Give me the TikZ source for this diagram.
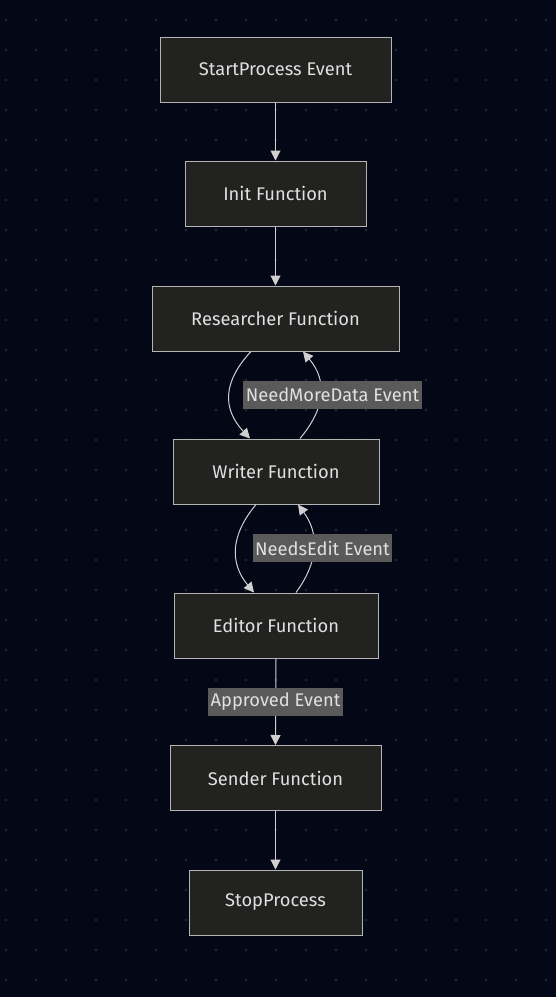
\documentclass[tikz,border=0pt]{standalone}
\usepackage{fontspec}
\setmainfont{Fira Sans}
\usetikzlibrary{arrows.meta}
\definecolor{bg}{HTML}{040816}
\definecolor{dotc}{HTML}{1E2232}
\definecolor{nodefill}{HTML}{222221}
\definecolor{nodeline}{HTML}{B4B4B4}
\definecolor{txt}{HTML}{E0E0E0}
\definecolor{edgec}{HTML}{D0D0D0}
\definecolor{lblfill}{HTML}{5A5A5A}
\tikzset{
  box/.style={draw=nodeline, fill=nodefill, line width=1pt, text=txt, font=\fontsize{18.3}{21}\selectfont, minimum height=65pt, inner sep=0pt},
  lbl/.style={fill=lblfill, text=txt, font=\fontsize{18.3}{21}\selectfont, minimum height=28pt, inner sep=0pt, inner xsep=0pt},
  edge/.style={draw=edgec, line width=1pt, -{Triangle[length=10pt,width=10pt]}}
}
\begin{document}
\begin{tikzpicture}[x=1pt,y=-1pt]
\fill[bg] (0,0) rectangle (556,997);
\useasboundingbox (0,0) rectangle (556,997);
\foreach \x in {6,36,...,546}{\foreach \y in {20,50,...,980}{\fill[dotc] (\x,\y) circle (1.6);}}
\node[box, minimum width=231pt] (start) at (275.5,69.5) {StartProcess Event};
\node[box, minimum width=181pt] (init) at (275.5,193.5) {Init Function};
\node[box, minimum width=247pt] (res) at (275.5,318.5) {Researcher Function};
\node[box, minimum width=206pt] (wri) at (276,471.5) {Writer Function};
\node[box, minimum width=204pt] (edi) at (276,625.5) {Editor Function};
\node[box, minimum width=211pt] (sen) at (275.5,778) {Sender Function};
\node[box, minimum width=173pt] (stop) at (275.5,902.5) {StopProcess};
\draw[edge] (start.south) -- (init.north);
\draw[edge] (init.south) -- (res.north);
\draw[edge] ([xshift=-24.5pt]res.south) .. controls +(-28,30) and +(-28,-30) .. ([xshift=-26pt]wri.north);
\draw[edge] ([xshift=24pt]wri.north) .. controls +(25,-30) and +(25,30) .. ([xshift=27.5pt]res.south);
\node[lbl, minimum width=179pt] (l1) at (332.5,395) {NeedMoreData Event};
\draw[edge] ([xshift=-20pt]wri.south) .. controls +(-25,30) and +(-25,-30) .. ([xshift=-22pt]edi.north);
\draw[edge] ([xshift=20pt]edi.north) .. controls +(22,-30) and +(22,30) .. ([xshift=22pt]wri.south);
\node[lbl, minimum width=139pt] (l2) at (322.5,548) {NeedsEdit Event};
\draw[edge] (edi.south) -- (sen.north);
\node[lbl, minimum width=135pt] (l3) at (275.5,701.5) {Approved Event};
\draw[edge] (sen.south) -- (stop.north);
\end{tikzpicture}
\end{document}
